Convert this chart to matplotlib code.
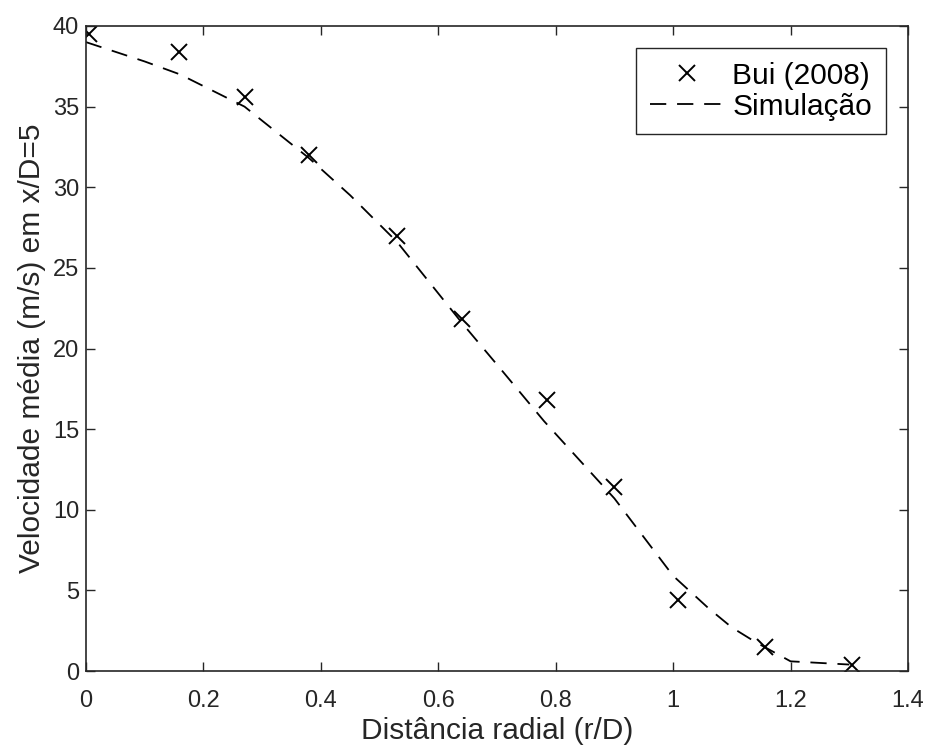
import matplotlib
matplotlib.use('Agg')
import matplotlib.pyplot as plt

# Bui (2008) experimental points
bui_r = [0.005, 0.158, 0.270, 0.380, 0.530, 0.640, 0.785, 0.899, 1.008, 1.157, 1.304]
bui_u = [39.5, 38.4, 35.6, 32.0, 27.0, 21.8, 16.8, 11.4, 4.4, 1.5, 0.4]

# simulation profile
sim_r = [0.0, 0.1, 0.16, 0.27, 0.38, 0.45, 0.53, 0.64, 0.70, 0.78, 0.90, 1.00, 1.06, 1.10, 1.14, 1.20, 1.30]
sim_u = [39.0, 37.8, 37.0, 35.0, 31.8, 29.5, 26.6, 21.6, 19.0, 15.5, 10.7, 5.9, 3.9, 2.7, 1.8, 0.6, 0.4]

plt.rcParams['font.family'] = ['Liberation Sans', 'DejaVu Sans']
gray = '#262626'

fig = plt.figure(figsize=(9.3, 7.51), dpi=100)
ax = fig.add_axes([86 / 930, 80 / 751, 822 / 930, 645 / 751])

ax.plot(bui_r, bui_u, 'x', color='k', markersize=11, markeredgewidth=1.4, label='Bui (2008)')
ax.plot(sim_r, sim_u, '--', color='k', linewidth=1.3, dashes=(9, 6), label='Simula\u00e7\u00e3o')

ax.set_xlim(0, 1.4)
ax.set_ylim(0, 40)
ax.set_xticks([0, 0.2, 0.4, 0.6, 0.8, 1, 1.2, 1.4])
ax.set_xticklabels(['0', '0.2', '0.4', '0.6', '0.8', '1', '1.2', '1.4'])
ax.set_yticks(range(0, 41, 5))
ax.tick_params(direction='in', top=True, right=True, length=6.5, width=1, colors=gray, labelsize=17)
ax.tick_params(axis='x', pad=14)
ax.tick_params(axis='y', pad=5)
for s in ax.spines.values():
    s.set_color(gray)
    s.set_linewidth(1.2)

ax.set_xlabel('Dist\u00e2ncia radial (r/D)', fontsize=21.5, color=gray, labelpad=3)
ax.set_ylabel('Velocidade m\u00e9dia (m/s) em x/D=5', fontsize=21.5, color=gray, labelpad=5)

leg = ax.legend(loc='upper right', fontsize=21.5, frameon=True, fancybox=False,
                edgecolor=gray, framealpha=1, borderaxespad=0.75, handlelength=2.5,
                handletextpad=0.27, borderpad=0.45, labelspacing=0.1, markerfirst=True)
leg.get_frame().set_linewidth(1.0)

fig.savefig('out.png', dpi=100)
